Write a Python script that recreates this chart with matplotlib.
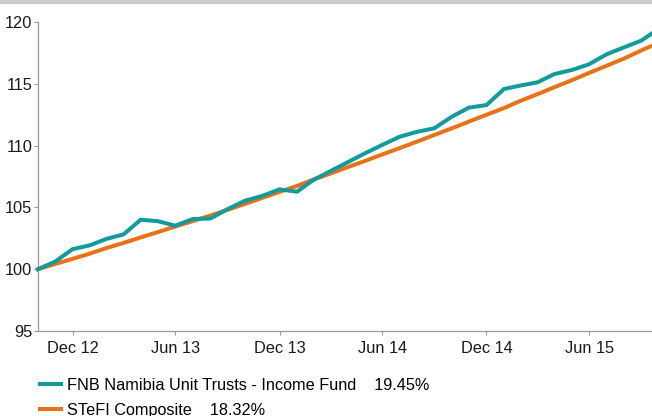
import numpy as np
import pandas as pd
import matplotlib
matplotlib.use("Agg")
import matplotlib.pyplot as plt
from matplotlib.patches import Rectangle

plt.rcParams['font.family'] = ['Liberation Sans', 'DejaVu Sans']

# monthly index values, base 100
dates = pd.date_range('2012-10-31', periods=37, freq='ME')
fnb = [100.0, 100.61, 101.62, 101.94, 102.44, 102.82, 104.0, 103.88, 103.52, 104.06,
       104.10, 104.85, 105.54, 105.92, 106.46, 106.27, 107.2, 107.94, 108.65, 109.38,
       110.05, 110.72, 111.12, 111.4, 112.34, 113.07, 113.28, 114.58, 114.85, 115.12,
       115.79, 116.12, 116.58, 117.39, 117.95, 118.49, 119.45]
stefi = [100.0, 100.42, 100.84, 101.27, 101.70, 102.13, 102.57, 103.01, 103.45, 103.89,
         104.34, 104.80, 105.28, 105.76, 106.25, 106.74, 107.24, 107.74, 108.25, 108.76,
         109.28, 109.80, 110.33, 110.86, 111.40, 111.94, 112.49, 113.04, 113.60, 114.16,
         114.73, 115.30, 115.88, 116.46, 117.05, 117.70, 118.32]
names = ['FNB Namibia Unit Trusts - Income Fund', 'STeFI Composite']
returns = ['19.45%', '18.32%']
colors = ['#149a9b', '#e8721a']

tick_dates = pd.to_datetime(['2012-12-31', '2013-06-30', '2013-12-31',
                             '2014-06-30', '2014-12-31', '2015-06-30'])
tick_labels = ['Dec 12', 'Jun 13', 'Dec 13', 'Jun 14', 'Dec 14', 'Jun 15']

fig = plt.figure(figsize=(6.52, 4.16), dpi=100)
ax = fig.add_axes([38/652, 85/416, 614/652, 309/416])

fig.patches.append(Rectangle((0, 1 - 3/416), 1, 3/416, transform=fig.transFigure,
                             color='#cccccc', zorder=0))

lines = []
for vals, name, ret, col in zip([fnb, stefi], names, returns, colors):
    ln, = ax.plot(dates, vals, color=col, lw=2.9, solid_joinstyle='miter',
                  label=name + '    ' + ret, clip_on=False)
    lines.append(ln)
lines[1].set_zorder(2)
lines[0].set_zorder(3)

ax.set_ylim(95, 120)
ax.set_yticks([95, 100, 105, 110, 115, 120])
ax.set_xlim(pd.Timestamp('2012-10-31'), pd.Timestamp('2015-10-19'))
ax.set_xticks(tick_dates)
ax.set_xticklabels(tick_labels)

for s in ['top', 'right']:
    ax.spines[s].set_visible(False)
for s in ['left', 'bottom']:
    ax.spines[s].set_color('#999999')
    ax.spines[s].set_linewidth(0.9)
ax.tick_params(axis='both', colors='#999999', labelcolor='#1a1a1a', labelsize=11.8,
               length=3, width=0.8)
ax.tick_params(axis='x', pad=4)
ax.tick_params(axis='y', pad=1)

fig.legend(handles=lines, loc='upper left', bbox_to_anchor=(40/652, 1 - 378/416),
           frameon=False, fontsize=11.7, handlelength=1.3, handletextpad=0.37,
           labelspacing=0.62, borderpad=0, borderaxespad=0)

fig.savefig('out.png', dpi=100)
